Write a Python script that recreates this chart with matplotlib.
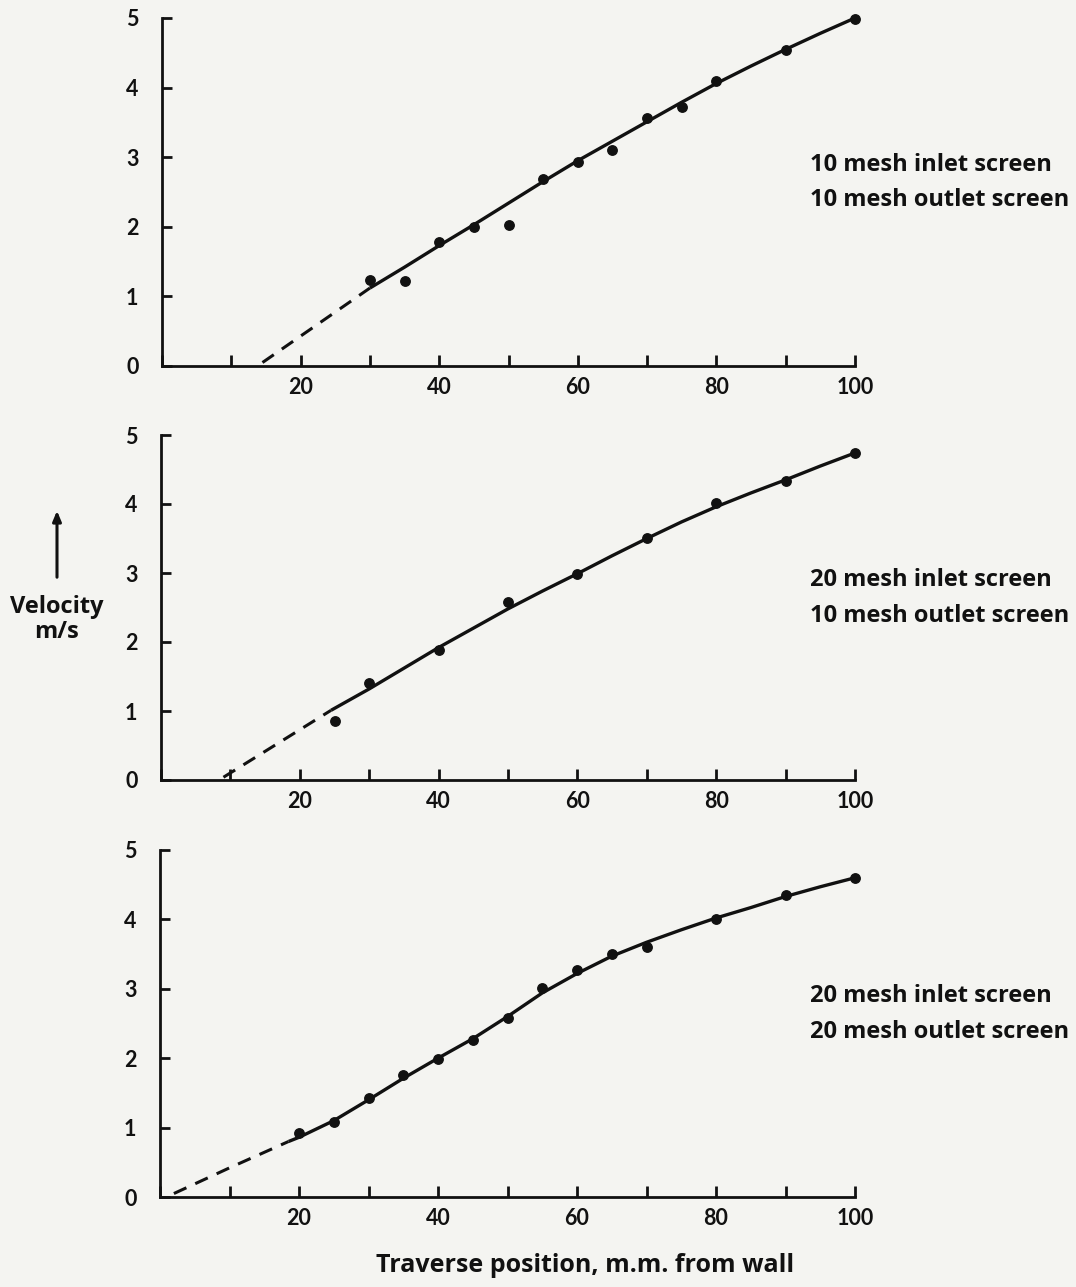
import matplotlib
matplotlib.use("Agg")
import matplotlib.pyplot as plt
from matplotlib.ticker import MultipleLocator

# ---------------- data ----------------
# Panel 1: 10 mesh inlet / 10 mesh outlet
p1_x = [30, 35, 40, 45, 50, 55, 60, 65, 70, 75, 80, 90, 100]
p1_y = [1.23, 1.22, 1.78, 2.00, 2.02, 2.68, 2.93, 3.10, 3.57, 3.72, 4.10, 4.54, 4.99]
p1_fit_x = [30, 35, 40, 45, 50, 55, 60, 65, 70, 75, 80, 85, 90, 95, 100]
p1_fit_y = [1.12, 1.42, 1.73, 2.03, 2.34, 2.65, 2.95, 3.23, 3.51, 3.79, 4.06, 4.31, 4.55, 4.78, 5.00]
p1_ext_x = [14.5, 30]
p1_ext_y = [0.05, 1.12]

# Panel 2: 20 mesh inlet / 10 mesh outlet
p2_x = [25, 30, 40, 50, 60, 70, 80, 90, 100]
p2_y = [0.85, 1.41, 1.88, 2.58, 2.99, 3.51, 4.01, 4.33, 4.74]
p2_fit_x = [24.5, 30, 35, 40, 45, 50, 55, 60, 65, 70, 75, 80, 85, 90, 95, 100]
p2_fit_y = [1.01, 1.32, 1.62, 1.92, 2.20, 2.48, 2.74, 2.99, 3.25, 3.50, 3.74, 3.96, 4.16, 4.35, 4.55, 4.74]
p2_ext_x = [9, 24.5]
p2_ext_y = [0.04, 1.01]

# Panel 3: 20 mesh inlet / 20 mesh outlet
p3_x = [20, 25, 30, 35, 40, 45, 50, 55, 60, 65, 70, 80, 90, 100]
p3_y = [0.92, 1.08, 1.43, 1.76, 1.99, 2.26, 2.58, 3.01, 3.27, 3.50, 3.60, 4.01, 4.35, 4.59]
p3_fit_x = [18.5, 20, 25, 30, 35, 40, 45, 50, 55, 60, 65, 70, 75, 80, 85, 90, 95, 100]
p3_fit_y = [0.80, 0.86, 1.10, 1.40, 1.71, 2.00, 2.28, 2.60, 2.94, 3.22, 3.47, 3.67, 3.85, 4.02, 4.17, 4.33, 4.47, 4.60]
p3_ext_x = [2, 10, 18.5]
p3_ext_y = [0.05, 0.42, 0.80]

labels = [
    ["10 mesh inlet screen", "10 mesh outlet screen"],
    ["20 mesh inlet screen", "10 mesh outlet screen"],
    ["20 mesh inlet screen", "20 mesh outlet screen"],
]
x_major = [20, 40, 60, 80, 100]
y_ticks = [0, 1, 2, 3, 4, 5]
xlabel = "Traverse position, m.m. from wall"
ylabel = ["Velocity", "m/s"]

# ---------------- figure ----------------
BG = "#f4f4f1"
INK = "#111111"
W, H = 1076, 1287
fig = plt.figure(figsize=(W / 100, H / 100), dpi=100, facecolor=BG)
plt.rcParams["font.family"] = ["Lato", "DejaVu Sans"]
TXT = ["Open Sans", "DejaVu Sans"]

# axes boxes in pixels: (left, top_y5, bottom_y0)
boxes = [(162, 18, 366), (161, 435, 780), (160, 850, 1197)]
right_px = 855

panels = [
    (p1_x, p1_y, p1_fit_x, p1_fit_y, p1_ext_x, p1_ext_y),
    (p2_x, p2_y, p2_fit_x, p2_fit_y, p2_ext_x, p2_ext_y),
    (p3_x, p3_y, p3_fit_x, p3_fit_y, p3_ext_x, p3_ext_y),
]

for i, ((l, t, b), (px, py, fx, fy, ex, ey)) in enumerate(zip(boxes, panels)):
    ax = fig.add_axes([l / W, (H - b) / H, (right_px - l) / W, (b - t) / H])
    ax.set_facecolor(BG)
    ax.set_xlim(0, 100)
    ax.set_ylim(0, 5)
    for s in ("top", "right"):
        ax.spines[s].set_visible(False)
    for s in ("left", "bottom"):
        ax.spines[s].set_linewidth(2.0)
        ax.spines[s].set_color(INK)
    ax.xaxis.set_minor_locator(MultipleLocator(10))
    ax.set_xticks(x_major)
    ax.set_yticks(y_ticks)
    ax.tick_params(axis="both", which="both", direction="in", width=2.0,
                   color=INK, labelsize=15.5, labelcolor=INK)
    ax.tick_params(axis="x", which="major", length=8, pad=8)
    ax.tick_params(axis="x", which="minor", length=8)
    ax.tick_params(axis="y", length=7, pad=17)
    for lab in ax.get_xticklabels() + ax.get_yticklabels():
        lab.set_fontweight("bold")

    ax.plot(fx, fy, color=INK, lw=2.4, solid_capstyle="butt", clip_on=False)
    ax.plot(ex, ey, color=INK, lw=2.2, dashes=(4.5, 3.2), clip_on=False)
    ax.plot(px, py, "o", color=INK, ms=6.8, clip_on=False)

    xt = 1.0 + (810 - right_px) / (right_px - l)
    ax.text(xt, (b - ((t + b) / 2 - 27)) / (b - t), labels[i][0],
            transform=ax.transAxes, fontsize=17, fontweight="bold", family=TXT,
            ha="left", va="center", color=INK)
    ax.text(xt, (b - ((t + b) / 2 + 8)) / (b - t), labels[i][1],
            transform=ax.transAxes, fontsize=17, fontweight="bold", family=TXT,
            ha="left", va="center", color=INK)

# y-label with arrow
fig.add_artist(matplotlib.patches.FancyArrowPatch(
    (57 / W, (H - 580) / H), (57 / W, (H - 508) / H), transform=fig.transFigure,
    arrowstyle="-|>,head_length=6,head_width=2.5", lw=2.2, color=INK))
fig.text(57 / W, (H - 607) / H, ylabel[0], ha="center", va="center",
         fontsize=17, fontweight="bold", family=TXT, color=INK)
fig.text(57 / W, (H - 632) / H, ylabel[1], ha="center", va="center",
         fontsize=17, fontweight="bold", family=TXT, color=INK)

fig.text(585 / W, (H - 1266) / H, xlabel, ha="center", va="center",
         fontsize=18, fontweight="bold", family=TXT, color=INK)

fig.savefig("out.png", dpi=100, facecolor=BG)
